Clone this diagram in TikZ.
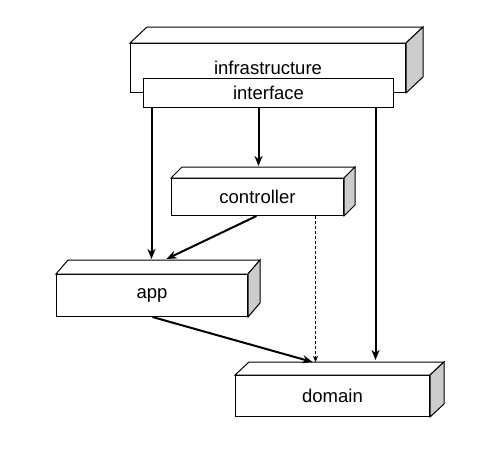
\documentclass[tikz,border=0pt]{standalone}
\usepackage{fontspec}
\setmainfont{Liberation Sans}
\usetikzlibrary{arrows.meta,calc}
\tikzset{
  x=1pt, y=-1pt,
  front/.style n args={2}{draw, fill=white, line width=1pt, inner sep=0pt,
    minimum width=#1pt, minimum height=#2pt,
    font=\fontsize{18.5}{22}\selectfont},
  facel/.style={draw, line width=1pt, line join=miter},
  arr/.style={line width=2pt, -{Stealth[length=10pt,width=8pt,inset=3pt]}},
  darr/.style={line width=0.8pt, dashed, dash pattern=on 3pt off 2pt,
    -{Stealth[length=6pt,width=5pt,inset=1.5pt]}}
}
\newcommand\cubefaces[3]{%
  \draw[facel, fill=white] (#1.north west) -- ([shift={(#2pt,#3pt)}]#1.north west)
    -- ([shift={(#2pt,#3pt)}]#1.north east) -- (#1.north east) -- cycle;
  \draw[facel, fill=gray!40] (#1.north east) -- ([shift={(#2pt,#3pt)}]#1.north east)
    -- ([shift={(#2pt,#3pt)}]#1.south east) -- (#1.south east) -- cycle;
}
\begin{document}
\begin{tikzpicture}
\useasboundingbox (0,0) rectangle (504,471);
% infrastructure
\node[front={275}{49}] (infra) at (268,68) {infrastructure};
\cubefaces{infra}{17}{16}
% interface
\node[front={250}{29}] (interface) at (268.5,93) {interface};
% controller
\node[front={172}{37}] (controller) at (257.5,197) {controller};
\cubefaces{controller}{11}{11}
% app
\node[front={191}{42}] (app) at (152,295.5) {app};
\cubefaces{app}{12}{14}
% domain
\node[front={194}{41}] (domain) at (332.5,396) {domain};
\cubefaces{domain}{14}{13}
% connectors
\draw[arr] ([xshift=8.5pt]interface.south west) -- ([xshift=95.5pt,yshift=15pt]app.north west);
\draw[arr] ([xshift=115.5pt]interface.south west) -- ([xshift=87.5pt,yshift=12pt]controller.north west);
\draw[arr] ([xshift=85.5pt]controller.south west) -- ([xshift=110.5pt,yshift=15pt]app.north west);
\draw[arr] ([xshift=96.5pt]app.south west) -- ([xshift=77.5pt,yshift=13pt]domain.north west);
\draw[darr] ([xshift=144.5pt]controller.south west) -- ([xshift=80.5pt,yshift=13pt]domain.north west);
\draw[arr] ([xshift=232.5pt]interface.south west) -- ([xshift=140.5pt,yshift=15pt]domain.north west);
\end{tikzpicture}
\end{document}
